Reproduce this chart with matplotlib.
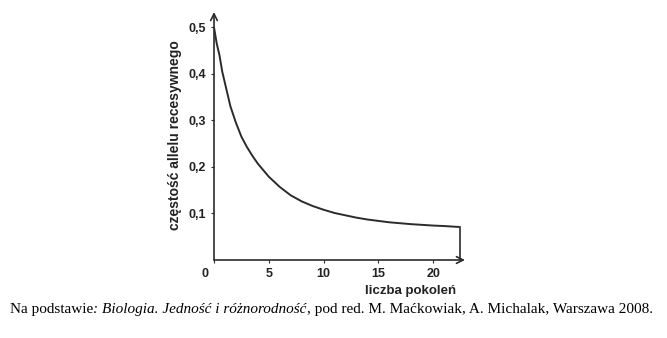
import matplotlib
matplotlib.use("Agg")
import matplotlib.pyplot as plt

# data
generations = [0, 0.25, 0.5, 0.75, 1, 1.5, 2, 2.5, 3, 3.5, 4, 5, 6, 7, 8, 9, 10,
               11, 12, 13, 14, 15, 16, 17, 18, 19, 20, 21, 22, 22.4]
frequency = [0.5, 0.465, 0.44, 0.405, 0.38, 0.33, 0.295, 0.265, 0.243, 0.224, 0.207,
             0.179, 0.157, 0.139, 0.126, 0.116, 0.108, 0.101, 0.096, 0.091, 0.087,
             0.084, 0.081, 0.079, 0.077, 0.0755, 0.074, 0.073, 0.0715, 0.071]
xticks = [0, 5, 10, 15, 20]
yticks = [0.1, 0.2, 0.3, 0.4, 0.5]
ytick_labels = ["0,1", "0,2", "0,3", "0,4", "0,5"]

fig = plt.figure(figsize=(6.67, 3.38), dpi=100)
ax = fig.add_axes([214 / 667, 78 / 338, 251 / 667, 248 / 338])
ax.set_xlim(0, 22.9)
ax.set_ylim(0, 0.533)

line_col = "#2b2b2b"
ax.plot(generations, frequency, color=line_col, lw=1.4, solid_capstyle="butt")
# closing vertical line down to the axis at the end of the curve
ax.plot([generations[-1], generations[-1]], [frequency[-1], 0], color=line_col, lw=1.2)

for s in ax.spines.values():
    s.set_visible(False)
ax.annotate("", xy=(0, 0.533), xytext=(0, 0),
            arrowprops=dict(arrowstyle="->", color=line_col, lw=1.2,
                            shrinkA=0, shrinkB=0, mutation_scale=12))
ax.annotate("", xy=(22.9, 0), xytext=(0, 0),
            arrowprops=dict(arrowstyle="->", color=line_col, lw=1.2,
                            shrinkA=0, shrinkB=0, mutation_scale=12))

ax.set_xticks(xticks)
# the origin "0" is placed separately, left of the axis
ax.set_xticklabels(["" if t == 0 else str(t) for t in xticks])
ax.set_yticks(yticks)
ax.set_yticklabels(ytick_labels)
ax.tick_params(axis="both", length=2, width=0.8, color=line_col, pad=4,
               labelsize=9, labelcolor="#222222")
for lab in ax.get_xticklabels() + ax.get_yticklabels():
    lab.set_fontweight("bold")
    lab.set_family("Liberation Sans")
ax.text(-0.5, -0.018, "0", ha="right", va="top", fontsize=9,
        fontweight="bold", family="Liberation Sans", color="#222222")

fig.text(175 / 667, 1 - 135 / 338, "częstość allelu recesywnego", rotation=90,
         ha="center", va="center", fontsize=10, fontweight="bold",
         family="Liberation Sans", color="#222222")
fig.text(411 / 667, 1 - 291 / 338, "liczba pokoleń", ha="center", va="center",
         fontsize=9.5, fontweight="bold", family="Liberation Sans", color="#222222")

# caption in pieces: regular / italic / regular
parts = [("Na podstawie", "normal"), (": Biologia. Jedność i różnorodność", "italic"),
         (", pod red. M. Maćkowiak, A. Michalak, Warszawa 2008.", "normal")]
fig.canvas.draw()
renderer = fig.canvas.get_renderer()
x = 10 / 667
for txt, style in parts:
    t = fig.text(x, 1 - 310 / 338, txt, ha="left", va="center", fontsize=11,
                 family="Liberation Serif", style=style, color="black")
    bb = t.get_window_extent(renderer=renderer)
    x = bb.x1 / fig.bbox.width

fig.savefig("out.png", dpi=100)
